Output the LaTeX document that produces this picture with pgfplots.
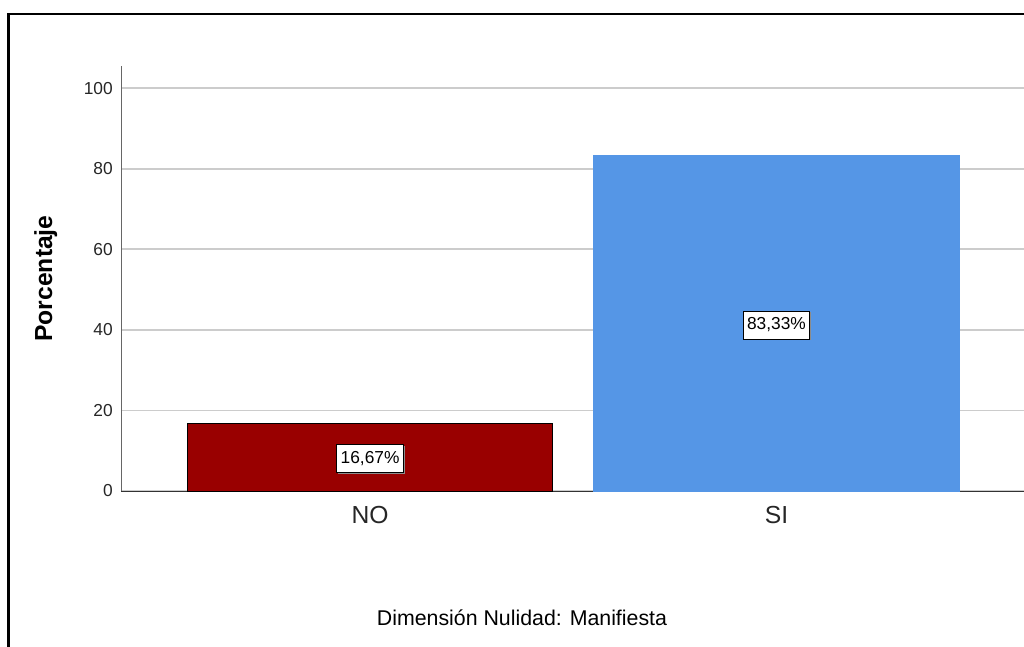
\documentclass[border=0pt]{standalone}
\usepackage{pgfplots}
\pgfplotsset{compat=1.18}
\usepackage{fontspec}
\setmainfont{Liberation Sans}
\usetikzlibrary{shadows}
\definecolor{barno}{HTML}{990000}
\definecolor{barsi}{HTML}{5596E6}
\begin{document}
\begin{tikzpicture}
\useasboundingbox (0pt,0pt) rectangle (768pt,484.5pt);
\begin{axis}[
 at={(90.75pt,116.25pt)}, anchor=south west,
 scale only axis, width=678.4pt, height=318.75pt,
 xmin=-0.613, xmax=1.613, ymin=0, ymax=105.5,
 enlargelimits=false,
 axis x line*=bottom, axis y line*=left,
 x axis line style={draw=black!80, line width=0.75pt, -},
 y axis line style={draw=black!60, line width=0.75pt, -},
 xtick={0,1}, xticklabels={NO,SI},
 ytick={0,20,40,60,80,100},
 major tick length=0pt,
 ymajorgrids, grid style={draw=black!20, line width=1.3pt},
 /pgf/number format/assume math mode=true,
 yticklabel style={font=\fontsize{13}{15}\selectfont, anchor=east, inner sep=0pt, xshift=-6pt, text=black!85},
 xticklabel style={font=\fontsize{18.5}{22}\selectfont, anchor=north, inner sep=0pt, yshift=-11pt, text=black!85},
 ylabel={Porcentaje},
 ylabel style={font=\bfseries\fontsize{18.5}{21}\selectfont, at={([xshift=-56.5pt]axis description cs:0,0.5)}, anchor=center},
 xlabel={Dimensión Nulidad: Manifiesta},
 xlabel style={font=\fontsize{16}{19}\selectfont, at={([yshift=-89pt]axis description cs:0.4433,0)}, anchor=north, inner sep=0pt},
 clip=false,
]
\addplot[ybar, bar width=0.9, bar shift=0pt, fill=barno, draw=black, line width=0.75pt] coordinates {(0,16.67)};
\addplot[ybar, bar width=0.9, bar shift=0pt, fill=barsi, draw=barsi] coordinates {(1,83.33)};
\addplot[draw=none, mark=none, nodes near coords, point meta=explicit symbolic,
 every node near coord/.style={anchor=center, draw=black, fill=white, line width=0.6pt, inner xsep=3pt, inner ysep=0pt, minimum height=21pt, font=\fontsize{13}{15}\selectfont, drop shadow={shadow xshift=1pt, shadow yshift=-1pt, fill=black!45, opacity=1}}]
 coordinates {(0,8.0) [16,67\%] (1,41.2) [83,33\%]};
\end{axis}
\draw[line width=2.2pt] (6.4pt,-5pt) -- (6.4pt,474pt) -- (775pt,474pt);
\end{tikzpicture}
\end{document}
